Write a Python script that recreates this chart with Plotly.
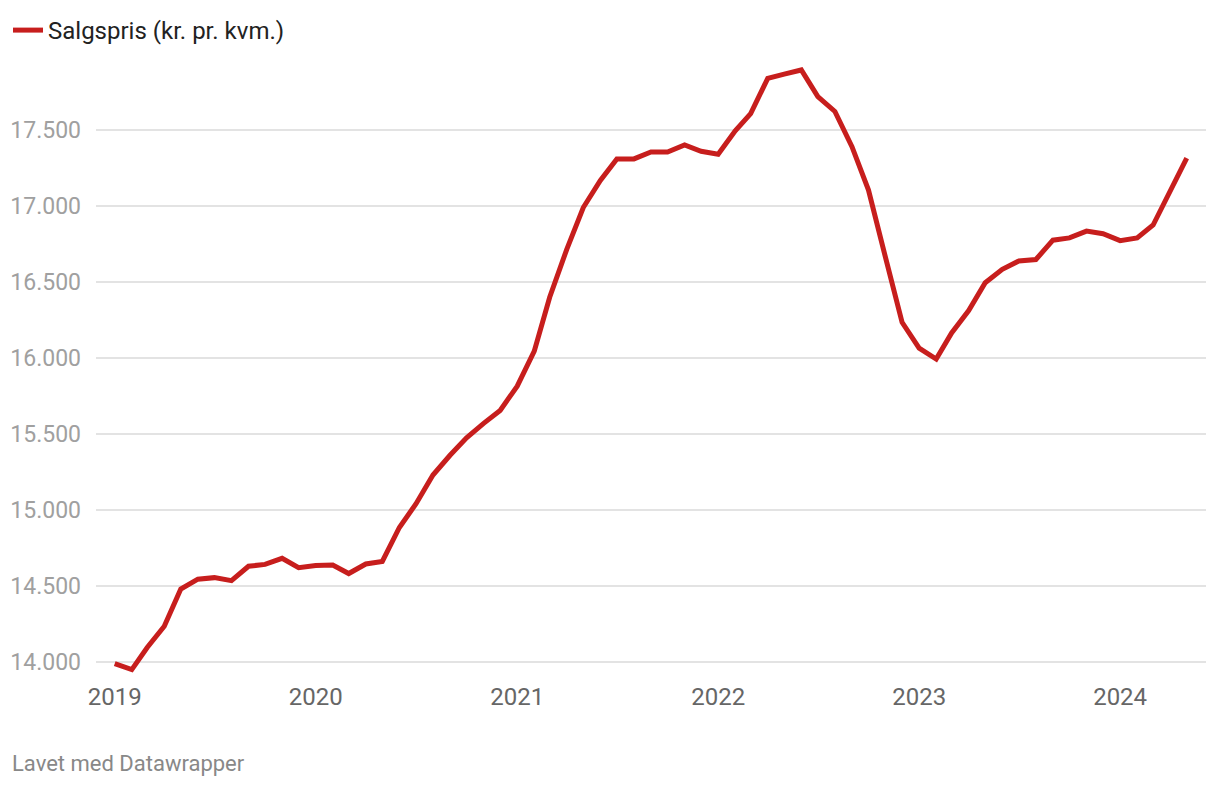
import plotly.graph_objects as go
import pandas as pd

# Monthly sales price (kr. pr. kvm.), Jan 2019 – May 2024
months = pd.date_range("2019-01-01", "2024-05-01", freq="MS").strftime("%Y-%m-%d").tolist()
salgspris = [
    13990, 13950, 14095, 14235, 14480, 14545, 14555, 14535, 14630, 14642, 14682, 14620,  # 2019
    14635, 14638, 14582, 14645, 14662, 14885, 15040, 15230, 15360, 15475, 15570, 15655,  # 2020
    15815, 16045, 16400, 16715, 16990, 17168, 17310, 17310, 17355, 17355, 17402, 17360,  # 2021
    17340, 17495, 17608, 17840, 17868, 17895, 17720, 17622, 17390, 17105, 16660, 16235,  # 2022
    16065, 15993, 16165, 16312, 16495, 16583, 16638, 16648, 16775, 16790, 16835, 16818,  # 2023
    16772, 16790, 16875, 17095, 17315,                                                   # 2024
]
series_name = "Salgspris (kr. pr. kvm.)"
y_ticks = [14000, 14500, 15000, 15500, 16000, 16500, 17000, 17500]
y_tick_labels = ["14.000", "14.500", "15.000", "15.500", "16.000", "16.500", "17.000", "17.500"]
x_ticks = ["2019-01-01", "2020-01-01", "2021-01-01", "2022-01-01", "2023-01-01", "2024-01-01"]
x_tick_labels = ["2019", "2020", "2021", "2022", "2023", "2024"]
footer = "Lavet med Datawrapper"

W, H = 1220, 786
L, R, T, B = 88, 22, 52, 119
PW, PH = W - L - R, H - T - B

fig = go.Figure()
fig.add_trace(go.Scatter(
    x=months, y=salgspris, mode="lines", name=series_name,
    line=dict(color="#c71e1d", width=5),
))

fig.update_layout(
    width=W, height=H,
    margin=dict(l=L, r=R, t=T, b=B, autoexpand=False),
    paper_bgcolor="white", plot_bgcolor="white",
    font=dict(family="Roboto, sans-serif", size=20, color="#222222"),
    showlegend=True,
    legend=dict(
        orientation="h",
        xref="container", yref="container", x=0, y=1,
        xanchor="left", yanchor="top",
        font=dict(size=24, color="#222222"),
        bgcolor="rgba(0,0,0,0)",
        itemwidth=30,
    ),
    xaxis=dict(
        type="date", automargin=False,
        range=["2018-11-28", "2024-06-05"],
        tickvals=x_ticks, ticktext=x_tick_labels,
        showgrid=False, zeroline=False, showline=False,
        ticks="", tickfont=dict(size=24, color="#666666"),
        ticklabelstandoff=5,
    ),
    yaxis=dict(
        automargin=False,
        range=[13914.5, 17960.5],
        tickvals=y_ticks, ticktext=y_tick_labels,
        showgrid=True, gridcolor="#e3e3e3", gridwidth=2,
        zeroline=False, showline=False,
        ticks="", tickfont=dict(size=23, color="#a0a0a0"),
        ticklabelstandoff=14,
    ),
    annotations=[dict(
        text=footer, xref="paper", yref="paper",
        x=-(L - 2) / PW, y=-(755 - (T + PH)) / PH, xanchor="left", yanchor="middle",
        showarrow=False, font=dict(size=22, color="#888888"),
    )],
)

fig.write_html("out.html")
